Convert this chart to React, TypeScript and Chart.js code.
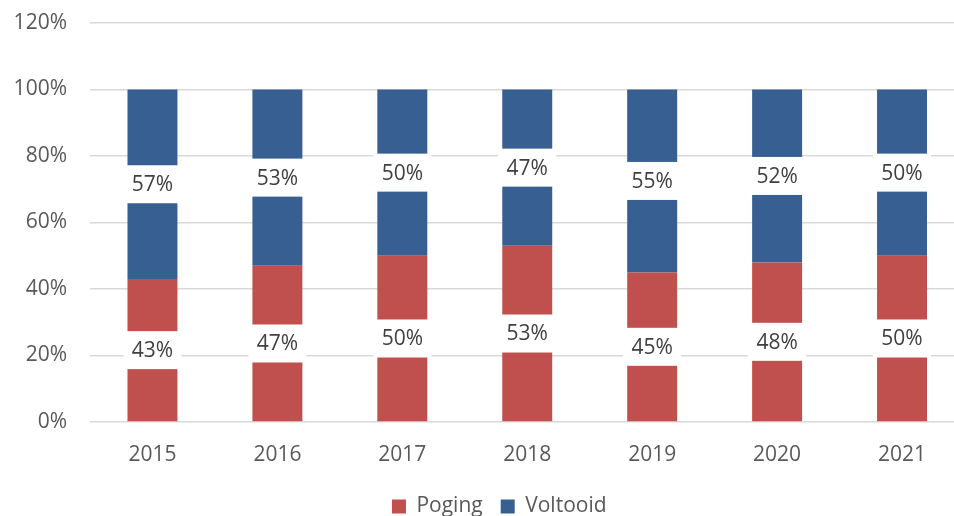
import React, { useEffect, useRef } from "react";
import { Chart, registerables } from "chart.js";

Chart.register(...registerables);

const years = ["2015", "2016", "2017", "2018", "2019", "2020", "2021"];
const poging = [43, 47, 50, 53, 45, 48, 50];
const voltooid = [57, 53, 50, 47, 55, 52, 50];
const yTicks = [0, 20, 40, 60, 80, 100, 120];

const FONT = "'Open Sans', sans-serif";

const labelPlugin = {
  id: "segLabels",
  afterDatasetsDraw(chart: any) {
    const ctx = chart.ctx;
    ctx.save();
    ctx.font = `21px ${FONT}`;
    ctx.textAlign = "center";
    ctx.textBaseline = "middle";
    chart.data.datasets.forEach((ds: any, di: number) => {
      const meta = chart.getDatasetMeta(di);
      meta.data.forEach((bar: any, i: number) => {
        const cy = (bar.y + bar.base) / 2;
        const cx = bar.x;
        ctx.fillStyle = "#ffffff";
        ctx.fillRect(cx - 29, cy - 19, 58, 38);
        ctx.fillStyle = "#404040";
        ctx.fillText(ds.data[i] + "%", cx, cy + 1);
      });
    });
    ctx.restore();
  },
};

const legendShift = {
  id: "legendShift",
  afterLayout(chart: any) {
    const lg = chart.legend;
    if (lg) {
      lg.left += 17;
      lg.right += 17;
    }
  },
};

export default function App() {
  const ref = useRef<HTMLCanvasElement>(null);
  useEffect(() => {
    if (!ref.current) return;
    const chart = new Chart(ref.current, {
      type: "bar",
      data: {
        labels: years,
        datasets: [
          { label: "Poging", data: poging, backgroundColor: "#C0504D", barPercentage: 0.4, categoryPercentage: 1 },
          { label: "Voltooid", data: voltooid, backgroundColor: "#375F92", barPercentage: 0.4, categoryPercentage: 1 },
        ],
      },
      options: {
        responsive: false,
        animation: false,
        layout: { padding: { top: 23, right: 10.5, bottom: 3, left: 0 } },
        plugins: {
          tooltip: { enabled: false },
          legend: {
            position: "bottom",
            labels: {
              boxWidth: 14,
              boxHeight: 14,
              padding: 18,
              color: "#595959",
              font: { size: 21, family: FONT },
            },
          },
        },
        scales: {
          x: {
            stacked: true,
            grid: { display: false, drawTicks: false },
            border: { display: false },
            ticks: { color: "#595959", font: { size: 21, family: FONT }, padding: 20 },
            afterFit: (s: any) => { s.height = 56; s.paddingLeft = 0; s.paddingRight = 0; },
          },
          y: {
            stacked: true,
            min: 0,
            max: 120,
            afterBuildTicks: (s: any) => { s.ticks = yTicks.map((v) => ({ value: v })); },
            grid: { color: "#d9d9d9", lineWidth: 1.5, drawTicks: false },
            border: { display: false },
            ticks: {
              color: "#595959",
              font: { size: 21, family: FONT },
              padding: 23,
              callback: (v: any) => v + "%",
            },
            afterFit: (s: any) => { s.width = 90; s.paddingTop = 0; s.paddingBottom = 0; },
          },
        },
      },
      plugins: [labelPlugin, legendShift],
    });
    return () => chart.destroy();
  }, []);
  return (
    <div style={{ position: "fixed", left: 0, top: 0, width: 954, height: 516, overflow: "hidden", background: "#fff" }}>
      <div style={{ position: "absolute", left: 0, top: 0 }}>
        <canvas ref={ref} width={975} height={530} style={{ display: "block" }} />
      </div>
    </div>
  );
}
